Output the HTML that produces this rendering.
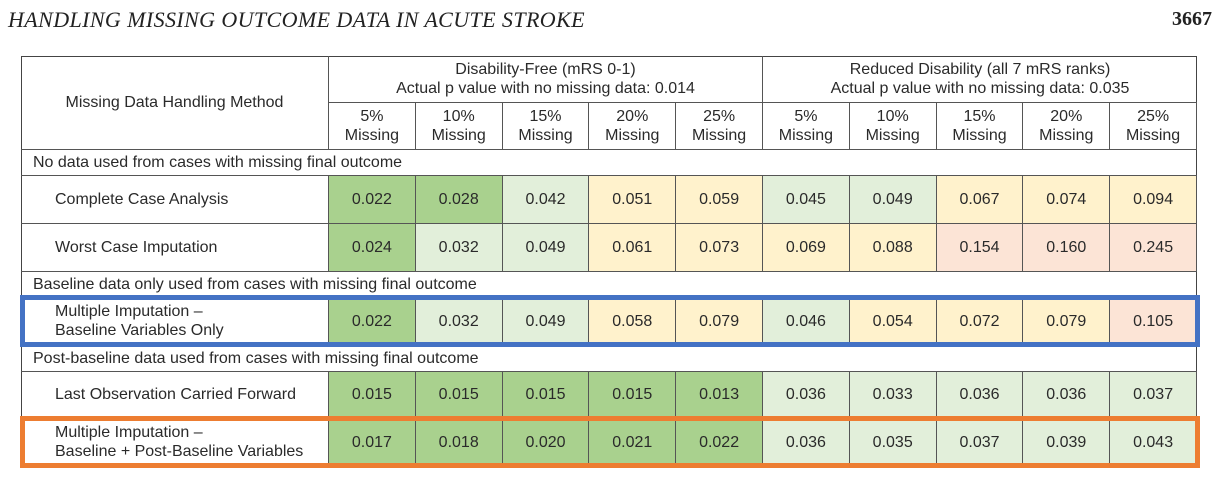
<!DOCTYPE html>
<html><head><meta charset="utf-8">
<style>
body{margin:0;width:1222px;height:490px;background:#fff;position:relative;overflow:hidden;font-family:"Liberation Sans",sans-serif;color:#2a2a2a}
.a{position:absolute;box-sizing:border-box}
.c{display:flex;align-items:center;justify-content:center;text-align:center;font-size:16px;line-height:19px}
.l{display:flex;align-items:center;font-size:16px;line-height:19px}
</style></head><body>
<div class="a" style="left:8px;top:7px;font-family:'Liberation Serif',serif;font-style:italic;font-size:22px;letter-spacing:0.4px;color:#222">HANDLING MISSING OUTCOME DATA IN ACUTE STROKE</div>
<div class="a" style="right:10px;top:8px;font-family:'Liberation Serif',serif;font-weight:bold;font-size:20px;color:#222">3667</div>
<div id="tbl"></div>
<script>
const pcts=["5%","10%","15%","20%","25%"];
const methods=["Complete Case Analysis","Worst Case  Imputation","Multiple Imputation  \u2013<br>Baseline Variables Only","Last Observation Carried Forward","Multiple Imputation \u2013<br>Baseline + Post-Baseline Variables"];
const dfValues=[[0.022,0.028,0.042,0.051,0.059],[0.024,0.032,0.049,0.061,0.073],[0.022,0.032,0.049,0.058,0.079],[0.015,0.015,0.015,0.015,0.013],[0.017,0.018,0.020,0.021,0.022]];
const rdValues=[[0.045,0.049,0.067,0.074,0.094],[0.069,0.088,0.154,0.160,0.245],[0.046,0.054,0.072,0.079,0.105],[0.036,0.033,0.036,0.036,0.037],[0.036,0.035,0.037,0.039,0.043]];
const sections=["No data used from cases with missing final outcome","Baseline data only used from cases with missing final outcome","Post-baseline data used from cases with missing final outcome"];
const root=document.getElementById('tbl');
const L=21,R=1197,M=329,CW=(R-M)/10;
const rowTop=[176,224,297,372,418],rowH=[48,48,49,46,49];
const secTop=[150,272,346],secH=[26,25,26];
function box(x,y,w,h,html,cls,style,name){const d=document.createElement('div');d.className='a '+cls;d.style.cssText=`left:${x}px;top:${y}px;width:${w}px;height:${h}px;`+style;d.innerHTML=html;


root.appendChild(d);return d;}
function col(v){return v<0.03?'#a9d18e':v<0.05?'#e2efda':v<0.1?'#fff2cc':'#fce4d6';}
const bd='border:1px solid #555;';
box(L,56,R-L,411,'','', 'border:1.5px solid #444;','table-frame');
box(L,56,M-L,94,'Missing Data Handling Method','c',bd+'border-width:0 1px 1px 0;','method-header');
box(M,56,CW*5,47,'Disability-Free (mRS 0-1)<br>Actual p value with no missing data: 0.014','c',bd+'border-width:0 1px 1px 0;','disability-free-header');
box(M+CW*5,56,CW*5,47,'Reduced Disability (all 7 mRS ranks)<br>Actual p value with no missing data: 0.035','c',bd+'border-width:0 0 1px 0;','reduced-disability-header');
for(let g=0;g<2;g++)for(let i=0;i<5;i++){
 box(M+CW*(g*5+i),103,CW,47,pcts[i]+'<br>Missing','c',bd+'border-width:0 1px 1px 0;','missing-pct-header');
}
for(let s=0;s<3;s++) box(L,secTop[s],R-L,secH[s],sections[s],'l',bd+'border-width:0 0 1px 0;padding-left:12px;','section-label');
for(let r=0;r<5;r++){
 box(L,rowTop[r],M-L,rowH[r],methods[r],'l',bd+'border-width:0 1px 1px 0;padding-left:34px;','method-label');
 const vals=dfValues[r].concat(rdValues[r]);
 for(let i=0;i<10;i++){
  box(M+CW*i,rowTop[r],CW,rowH[r],vals[i].toFixed(3),'c',bd+'border-width:0 1px 1px 0;background:'+col(vals[i])+';','p-value-cell');
 }
}
box(20,295,1180,52,'','', 'border:5px solid #4472c4;','highlight-blue');
box(20,416,1180,52,'','', 'border:5px solid #ed7d31;','highlight-orange');
</script>
</body></html>
